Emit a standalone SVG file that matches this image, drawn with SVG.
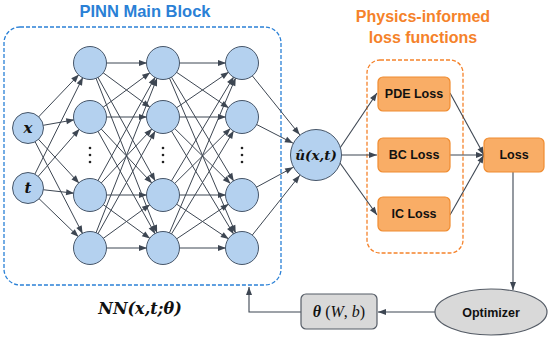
<svg xmlns="http://www.w3.org/2000/svg" width="550" height="340" viewBox="0 0 550 340">
<defs>
<marker id="arr" markerUnits="userSpaceOnUse" markerWidth="8" markerHeight="6" refX="8" refY="3" orient="auto" overflow="visible"><path d="M0,0 L8,3 L0,6 Z" fill="#3d4652"/></marker>
<marker id="arr16" markerUnits="userSpaceOnUse" markerWidth="8" markerHeight="6" refX="24" refY="3" orient="auto" overflow="visible"><path d="M0,0 L8,3 L0,6 Z" fill="#3d4652"/></marker>
<marker id="arr26" markerUnits="userSpaceOnUse" markerWidth="8" markerHeight="6" refX="34" refY="3" orient="auto" overflow="visible"><path d="M0,0 L8,3 L0,6 Z" fill="#3d4652"/></marker>
<style>
.e{stroke:#3d4652;stroke-width:1;fill:none;marker-end:url(#arr16)}
.eu{stroke:#3d4652;stroke-width:1;fill:none;marker-end:url(#arr26)}
.c{stroke:#3d4652;stroke-width:1.1;fill:none;marker-end:url(#arr)}
.n{fill:#b4d1ef;stroke:#475669;stroke-width:1}
.ob{fill:#f9ad66;stroke:#f08c30;stroke-width:1.2}
.gb{fill:#d9d9d9;stroke:#555c66;stroke-width:1.2}
.lbl{font-family:"Liberation Sans",Arial,sans-serif;font-weight:bold;font-size:12.5px;fill:#111;text-anchor:middle}
.m{font-family:"DejaVu Serif","Liberation Serif",serif;font-weight:bold;font-style:italic;fill:#111;text-anchor:middle}
.dot{fill:#222}
</style>
</defs>
<rect width="550" height="340" fill="#ffffff"/>

<g id="pinn-block">
<rect x="4" y="27" width="277" height="258" rx="16" fill="none" stroke="#2a80d6" stroke-width="1.3" stroke-dasharray="4,2"/>
<text x="145" y="17" font-family="'Liberation Sans',Arial,sans-serif" font-weight="bold" font-size="16.5" fill="#2a80d6" text-anchor="middle">PINN Main Block</text>
<text x="140" y="314" class="m" font-size="16">NN(x,t;θ)</text>
</g>
<g id="physics-block">
<rect x="367" y="60" width="96" height="193" rx="13" fill="none" stroke="#f5822a" stroke-width="1.3" stroke-dasharray="4,2"/>
<text x="423" y="22" font-family="'Liberation Sans',Arial,sans-serif" font-weight="bold" font-size="16" fill="#f5822a" text-anchor="middle">Physics-informed</text>
<text x="423" y="43" font-family="'Liberation Sans',Arial,sans-serif" font-weight="bold" font-size="16" fill="#f5822a" text-anchor="middle">loss functions</text>
</g>

<g id="connectors">
<line class="e" x1="28" y1="128" x2="90" y2="63"/>
<line class="e" x1="28" y1="128" x2="90" y2="117"/>
<line class="e" x1="28" y1="128" x2="90" y2="195"/>
<line class="e" x1="28" y1="128" x2="90" y2="248"/>
<line class="e" x1="28" y1="188" x2="90" y2="63"/>
<line class="e" x1="28" y1="188" x2="90" y2="117"/>
<line class="e" x1="28" y1="188" x2="90" y2="195"/>
<line class="e" x1="28" y1="188" x2="90" y2="248"/>
<line class="e" x1="90" y1="63" x2="163" y2="63"/>
<line class="e" x1="90" y1="63" x2="163" y2="117"/>
<line class="e" x1="90" y1="63" x2="163" y2="195"/>
<line class="e" x1="90" y1="63" x2="163" y2="248"/>
<line class="e" x1="90" y1="117" x2="163" y2="63"/>
<line class="e" x1="90" y1="117" x2="163" y2="117"/>
<line class="e" x1="90" y1="117" x2="163" y2="195"/>
<line class="e" x1="90" y1="117" x2="163" y2="248"/>
<line class="e" x1="90" y1="195" x2="163" y2="63"/>
<line class="e" x1="90" y1="195" x2="163" y2="117"/>
<line class="e" x1="90" y1="195" x2="163" y2="195"/>
<line class="e" x1="90" y1="195" x2="163" y2="248"/>
<line class="e" x1="90" y1="248" x2="163" y2="63"/>
<line class="e" x1="90" y1="248" x2="163" y2="117"/>
<line class="e" x1="90" y1="248" x2="163" y2="195"/>
<line class="e" x1="90" y1="248" x2="163" y2="248"/>
<line class="e" x1="163" y1="63" x2="242" y2="63"/>
<line class="e" x1="163" y1="63" x2="242" y2="117"/>
<line class="e" x1="163" y1="63" x2="242" y2="195"/>
<line class="e" x1="163" y1="63" x2="242" y2="248"/>
<line class="e" x1="163" y1="117" x2="242" y2="63"/>
<line class="e" x1="163" y1="117" x2="242" y2="117"/>
<line class="e" x1="163" y1="117" x2="242" y2="195"/>
<line class="e" x1="163" y1="117" x2="242" y2="248"/>
<line class="e" x1="163" y1="195" x2="242" y2="63"/>
<line class="e" x1="163" y1="195" x2="242" y2="117"/>
<line class="e" x1="163" y1="195" x2="242" y2="195"/>
<line class="e" x1="163" y1="195" x2="242" y2="248"/>
<line class="e" x1="163" y1="248" x2="242" y2="63"/>
<line class="e" x1="163" y1="248" x2="242" y2="117"/>
<line class="e" x1="163" y1="248" x2="242" y2="195"/>
<line class="e" x1="163" y1="248" x2="242" y2="248"/>
<line class="eu" x1="242" y1="63" x2="316" y2="155"/>
<line class="eu" x1="242" y1="117" x2="316" y2="155"/>
<line class="eu" x1="242" y1="195" x2="316" y2="155"/>
<line class="eu" x1="242" y1="248" x2="316" y2="155"/>
<line class="c" x1="340" y1="148" x2="377" y2="93"/>
<line class="c" x1="342" y1="155" x2="377" y2="155"/>
<line class="c" x1="340" y1="163" x2="377" y2="215"/>
<line class="c" x1="450" y1="93" x2="484" y2="155"/>
<line class="c" x1="450" y1="155" x2="484" y2="155"/>
<line class="c" x1="450" y1="215" x2="484" y2="155"/>
<line class="c" x1="513" y1="172" x2="513" y2="290"/>
<line class="c" x1="435" y1="312" x2="378" y2="312"/>
<polyline class="c" points="301,312 249,312 249,287"/>
</g>

<g id="input-x"><circle class="n" cx="28" cy="128" r="15.5"/><text x="28" y="133" class="m" font-size="15">x</text></g>
<g id="input-t"><circle class="n" cx="28" cy="188" r="15.5"/><text x="28" y="193" class="m" font-size="15">t</text></g>

<g id="h1-1"><circle class="n" cx="90" cy="63" r="16.5"/></g>
<g id="h1-2"><circle class="n" cx="90" cy="117" r="16.5"/></g>
<g id="h1-3"><circle class="n" cx="90" cy="195" r="16.5"/></g>
<g id="h1-4"><circle class="n" cx="90" cy="248" r="16.5"/></g>
<g id="h2-1"><circle class="n" cx="163" cy="63" r="16.5"/></g>
<g id="h2-2"><circle class="n" cx="163" cy="117" r="16.5"/></g>
<g id="h2-3"><circle class="n" cx="163" cy="195" r="16.5"/></g>
<g id="h2-4"><circle class="n" cx="163" cy="248" r="16.5"/></g>
<g id="h3-1"><circle class="n" cx="242" cy="63" r="16.5"/></g>
<g id="h3-2"><circle class="n" cx="242" cy="117" r="16.5"/></g>
<g id="h3-3"><circle class="n" cx="242" cy="195" r="16.5"/></g>
<g id="h3-4"><circle class="n" cx="242" cy="248" r="16.5"/></g>

<g id="ellipsis">
<circle class="dot" cx="90" cy="148" r="1.3"/><circle class="dot" cx="90" cy="155" r="1.3"/><circle class="dot" cx="90" cy="162" r="1.3"/>
<circle class="dot" cx="163" cy="148" r="1.3"/><circle class="dot" cx="163" cy="155" r="1.3"/><circle class="dot" cx="163" cy="162" r="1.3"/>
<circle class="dot" cx="242" cy="148" r="1.3"/><circle class="dot" cx="242" cy="155" r="1.3"/><circle class="dot" cx="242" cy="162" r="1.3"/>
</g>

<g id="output-u"><circle class="n" cx="316" cy="155" r="25.5"/><text x="316" y="160" class="m" font-size="13.5">û(x,t)</text></g>

<g id="pde-loss"><rect class="ob" x="378" y="77" width="72" height="34" rx="5"/><text x="414" y="98" class="lbl">PDE Loss</text></g>
<g id="bc-loss"><rect class="ob" x="378" y="138" width="72" height="34" rx="5"/><text x="414" y="159" class="lbl">BC Loss</text></g>
<g id="ic-loss"><rect class="ob" x="378" y="197" width="72" height="34" rx="5"/><text x="414" y="218" class="lbl">IC Loss</text></g>
<g id="loss"><rect class="ob" x="484" y="138" width="60" height="34" rx="5"/><text x="514" y="159" class="lbl" font-size="13.5">Loss</text></g>

<g id="optimizer"><ellipse class="gb" cx="491" cy="312" rx="56" ry="23"/><text x="491" y="317" class="lbl" font-size="14">Optimizer</text></g>
<g id="theta"><rect class="gb" x="301" y="294" width="76" height="35" rx="5"/><text x="339" y="317" font-family="'Liberation Serif','Times New Roman',serif" font-size="16" fill="#111" text-anchor="middle"><tspan font-weight="bold" font-style="italic">θ</tspan> (<tspan font-style="italic">W</tspan>, <tspan font-style="italic">b</tspan>)</text></g>
</svg>
